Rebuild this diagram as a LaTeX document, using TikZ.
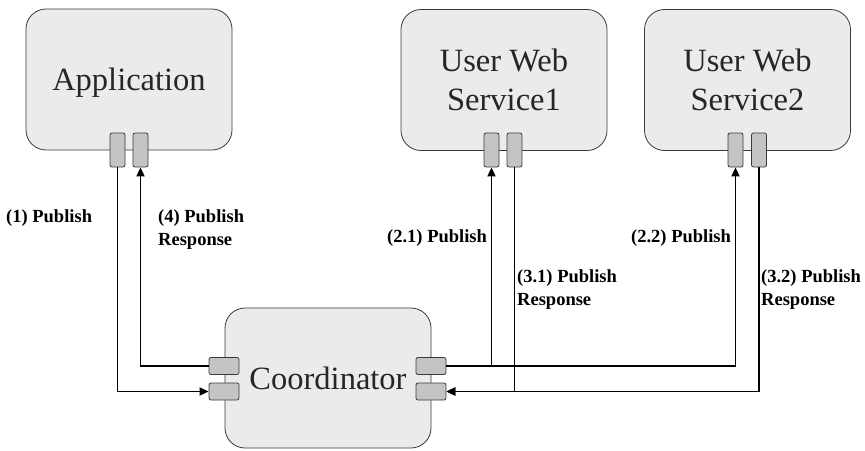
\documentclass[tikz,border=0pt]{standalone}
\usepackage{fontspec}
\setmainfont{Liberation Serif}
\newfontfamily\boxfont{Liberation Serif}
\usetikzlibrary{arrows.meta}
\definecolor{boxfill}{HTML}{EBEBEB}
\definecolor{portfill}{HTML}{C4C4C4}
\definecolor{edge}{HTML}{3A3A3A}
\begin{document}
\begin{tikzpicture}[x=1pt,y=-1pt,
  comp/.style={draw=edge, fill=boxfill, rounded corners=20pt, line width=0.8pt,
    minimum width=206pt, minimum height=141pt, inner sep=0pt, align=center,
    text=black!85, font=\boxfont\fontsize{32.5}{39}\selectfont},
  vport/.style={draw=edge, fill=portfill, rounded corners=2pt, line width=0.8pt,
    minimum width=15pt, minimum height=34pt, inner sep=0pt},
  hport/.style={draw=edge, fill=portfill, rounded corners=2pt, line width=0.8pt,
    minimum width=30pt, minimum height=17pt, inner sep=0pt},
  msg/.style={anchor=north west, inner sep=0pt, align=left,
    font=\boxfont\fontsize{18.5}{23.5}\selectfont\bfseries},
  flow/.style={draw, line width=1.8pt, -{Triangle[length=9pt,width=8pt]}}]
\useasboundingbox (0,0) rectangle (865,450);

\node[comp, text depth=0pt] (app) at (129,79.5) {Application};
\node[comp] (ws1) at (504,80) {User Web\\Service1};
\node[comp] (ws2) at (747.5,80) {User Web\\Service2};
\node[comp, minimum height=140pt, text depth=0pt] (coord) at (328,378) {Coordinator};

\node[vport] (app1) at (117.5,150) {};
\node[vport] (app2) at (140.5,150) {};
\node[vport] (ws1a) at (491.5,150) {};
\node[vport] (ws1b) at (514.5,150) {};
\node[vport] (ws2a) at (735.5,150) {};
\node[vport] (ws2b) at (759,150) {};

\node[hport] (cl1) at (224,366) {};
\node[hport] (cl2) at (224,391.5) {};
\node[hport] (cr1) at (431,366) {};
\node[hport] (cr2) at (431,391.5) {};

\path[flow] (app1.south) |- (cl2.west);
\path[flow] (cl1.west) -| (app2.south);
\path[flow] (cr1.east) -| (ws1a.south);
\path[flow] (cr1.east) -| (ws2a.south);
\path[flow] (ws1b.south) |- (cr2.east);
\path[flow] (ws2b.south) |- (cr2.east);

\node[msg] (m1) at (6,209) {(1) Publish};
\node[msg] (m4) at (158,209) {(4) Publish\\Response};
\node[msg] (m21) at (387,229) {(2.1) Publish};
\node[msg] (m31) at (517,269) {(3.1) Publish\\Response};
\node[msg] (m22) at (631,229) {(2.2) Publish};
\node[msg] (m32) at (761,269) {(3.2) Publish\\Response};
\end{tikzpicture}
\end{document}
